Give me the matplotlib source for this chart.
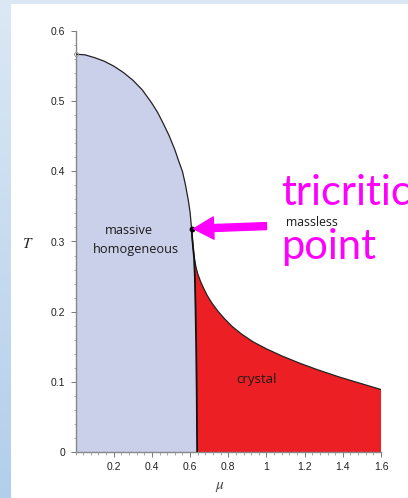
import matplotlib
matplotlib.use("Agg")
import matplotlib.pyplot as plt
import matplotlib.patches as mpatches
from matplotlib.ticker import MultipleLocator, FixedLocator
import numpy as np

plt.rcParams["mathtext.fontset"] = "stix"

# second-order line: massive homogeneous -> massless (ends at the tricritical point)
mu_second = [0.0, 0.05, 0.1, 0.15, 0.2, 0.25, 0.3, 0.35, 0.4, 0.43, 0.46, 0.49,
             0.52, 0.54, 0.56, 0.575, 0.59, 0.6, 0.608]
T_second = [0.567, 0.566, 0.562, 0.557, 0.550, 0.541, 0.530, 0.516, 0.497, 0.484, 0.468, 0.451,
            0.431, 0.415, 0.400, 0.382, 0.360, 0.342, 0.318]

# first-order line between massive homogeneous and crystal
mu_first = [0.608, 0.612, 0.617, 0.621, 0.625, 0.629, 0.632, 0.635, 0.637]
T_first = [0.318, 0.303, 0.288, 0.276, 0.250, 0.200, 0.150, 0.080, 0.0]

# crystal -> massless boundary
mu_crystal = [0.608, 0.612, 0.617, 0.622, 0.63, 0.64, 0.655, 0.67, 0.69, 0.715, 0.745, 0.78,
              0.82, 0.87, 0.93, 1.0, 1.08, 1.17, 1.27, 1.38, 1.49, 1.6]
T_crystal = [0.318, 0.303, 0.289, 0.278, 0.265, 0.254, 0.243, 0.234, 0.223, 0.212, 0.201, 0.190,
             0.179, 0.168, 0.157, 0.147, 0.137, 0.127, 0.117, 0.107, 0.098, 0.089]

tricritical = (0.608, 0.318)

x_ticks = [0.2, 0.4, 0.6, 0.8, 1.0, 1.2, 1.4, 1.6]
x_ticklabels = ["0.2", "0.4", "0.6", "0.8", "1", "1.2", "1.4", "1.6"]
y_ticks = [0, 0.1, 0.2, 0.3, 0.4, 0.5, 0.6]
y_ticklabels = ["0", "0.1", "0.2", "0.3", "0.4", "0.5", "0.6"]

BLUE = "#cbd0ea"
RED = "#ec2024"
MAGENTA = "#ff00ff"

W, H = 408, 498
fig = plt.figure(figsize=(W / 100, H / 100), dpi=100)

# slide-style backdrop: blue gradient strip with a white panel on top
bg = fig.add_axes([0, 0, 1, 1], zorder=-10)
grad = np.linspace(0, 1, 256)[:, None]
top_c = np.array([0.86, 0.91, 0.96])
bot_c = np.array([0.70, 0.81, 0.92])
img = top_c[None, None, :] * (1 - grad[:, :, None]) + bot_c[None, None, :] * grad[:, :, None]
bg.imshow(img, aspect="auto", extent=[0, 1, 0, 1])
bg.add_patch(mpatches.Rectangle((11 / W, 0), 1, 1 - 4 / H, facecolor="white", edgecolor="none"))
bg.set_xlim(0, 1)
bg.set_ylim(0, 1)
bg.axis("off")

ax = fig.add_axes([75.5 / W, 46 / H, (381 - 75.5) / W, (452 - 31) / H])
ax.set_facecolor("none")

# massive homogeneous region
blue_mu = [0.0] + mu_second + mu_first[1:]
blue_T = [0.0] + T_second + T_first[1:]
ax.fill(blue_mu, blue_T, color=BLUE, lw=0, zorder=1)

# crystal region
red_mu = mu_first + [1.6] + mu_crystal[::-1]
red_T = T_first + [0.0] + T_crystal[::-1]
ax.fill(red_mu, red_T, color=RED, lw=0, zorder=1)

ax.plot(mu_second, T_second, color="#222222", lw=0.9, zorder=3, solid_joinstyle="round")
ax.plot(mu_crystal, T_crystal, color="#222222", lw=0.9, zorder=3, solid_joinstyle="round")
ax.plot(mu_first, T_first, color="#111111", lw=1.3, zorder=3, solid_joinstyle="round")
ax.plot([1.6, 1.6], [0, T_crystal[-1]], color="#bbbbbb", lw=0.6, zorder=2)
ax.plot(*tricritical, "o", color="black", ms=3.2, zorder=4)
ax.plot(0.0, T_second[0], "o", mfc="none", mec="#999999", ms=3, mew=0.6, zorder=4, clip_on=False)

ax.set_xlim(0, 1.6)
ax.set_ylim(0, 0.6)
for side in ["top", "right"]:
    ax.spines[side].set_visible(False)
for side in ["left", "bottom"]:
    ax.spines[side].set_color("#888888")
    ax.spines[side].set_linewidth(1.0)

ax.xaxis.set_major_locator(FixedLocator(x_ticks))
ax.set_xticklabels(x_ticklabels)
ax.yaxis.set_major_locator(FixedLocator(y_ticks))
ax.set_yticklabels(y_ticklabels)
ax.xaxis.set_minor_locator(MultipleLocator(0.04))
ax.yaxis.set_minor_locator(MultipleLocator(0.02))
ax.tick_params(which="major", length=3.5, width=0.7, color="#777777", labelsize=7.5,
               labelcolor="#222222", pad=4)
ax.tick_params(which="minor", length=1.8, width=0.6, color="#999999")
for lbl in ax.get_xticklabels() + ax.get_yticklabels():
    lbl.set_family("Liberation Sans")

fig.text(28 / W, 1 - 243 / H, r"$T$", fontsize=11, ha="center", va="center", color="#222222")
fig.text(220 / W, 1 - 486 / H, r"$\mu$", fontsize=11, ha="center", va="center", color="#444444")

label_font = "Open Sans"
ax.text(0.277, 0.316, "massive", fontsize=9.2, family=label_font, ha="center", va="center", color="#1a1a1a")
ax.text(0.316, 0.289, "homogeneous", fontsize=9.2, family=label_font, ha="center", va="center", color="#1a1a1a")
ax.text(0.946, 0.103, "crystal", fontsize=9.5, family=label_font, ha="center", va="center", color="#1a1a1a")
ax.text(1.236, 0.327, "massless", fontsize=8.8, family=label_font, ha="center", va="center",
        color="#1a1a1a", clip_on=False)

ax.text(1.079, 0.352, "tricritical", fontsize=30, family="Lato", ha="left", va="baseline",
        color=MAGENTA, clip_on=False)
ax.text(1.079, 0.275, "point", fontsize=30, family="Lato", ha="left", va="baseline",
        color=MAGENTA, clip_on=False)

ax.annotate("", xy=tricritical, xytext=(1.0, 0.322),
            arrowprops=dict(arrowstyle="simple,head_length=0.72,head_width=0.8,tail_width=0.25",
                            mutation_scale=20, color=MAGENTA, shrinkA=0, shrinkB=1.5),
            zorder=5, annotation_clip=False)

fig.savefig("out.png", dpi=100)
